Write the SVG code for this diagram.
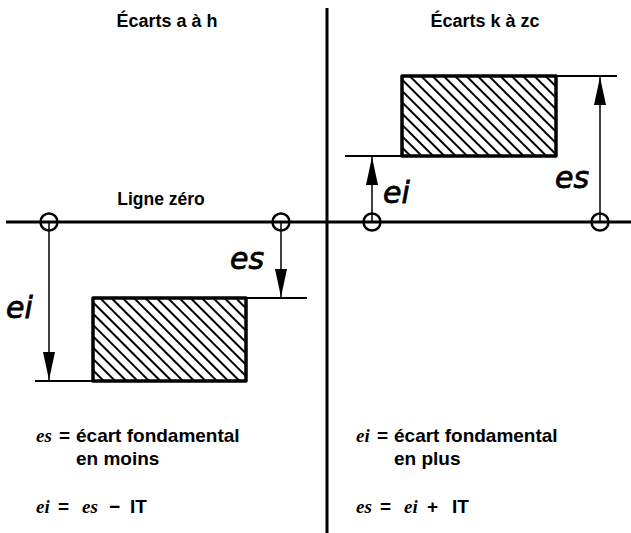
<svg xmlns="http://www.w3.org/2000/svg" width="631" height="533" viewBox="0 0 631 533">
<style>
.t{font-family:"Liberation Sans",Arial,sans-serif;font-weight:bold;fill:#000}
.lab{font-family:"DejaVu Sans",sans-serif;font-style:oblique;font-size:30px;fill:#000;stroke:#000;stroke-width:0.8}
.it{font-family:"Liberation Serif","Times New Roman",serif;font-style:italic;font-weight:bold;fill:#000}
.thick{stroke:#000;stroke-width:3;fill:none}
.ext{stroke:#000;stroke-width:2;fill:none}
.dim{stroke:#000;stroke-width:1.5;fill:none}
.circ{stroke:#000;stroke-width:2.5;fill:none}
.box{stroke:#000;stroke-width:3.5;fill:url(#hatch);stroke-linejoin:round}
</style>
<defs>
<pattern id="hatch" patternUnits="userSpaceOnUse" width="8" height="8" patternTransform="rotate(45)">
<line x1="0" y1="4" x2="8" y2="4" stroke="#000" stroke-width="2"/>
</pattern>
<marker id="ah" viewBox="0 0 28 12" refX="28" refY="6" markerWidth="28" markerHeight="12" markerUnits="userSpaceOnUse" orient="auto">
<path d="M0,0 L28,6 L0,12 Z" fill="#000"/>
</marker>
</defs>

<g id="titles">
<text class="t" x="167" y="27" font-size="18" text-anchor="middle">Écarts a à h</text>
<text class="t" x="485" y="27" font-size="18" text-anchor="middle">Écarts k à zc</text>
<text class="t" x="161" y="205" font-size="17.5" text-anchor="middle">Ligne zéro</text>
</g>

<g id="axes">
<line class="thick" x1="327" y1="8" x2="327" y2="533"/>
<line class="thick" x1="6" y1="222" x2="631" y2="222"/>
</g>

<g id="left-tolerance">
<rect class="box" x="93" y="298" width="153" height="83"/>
</g>
<g id="right-tolerance">
<rect class="box" x="402" y="76" width="154" height="80"/>
</g>

<g id="reference-points">
<circle class="circ" cx="49" cy="222" r="8.5"/>
<circle class="circ" cx="281" cy="222" r="8.5"/>
<circle class="circ" cx="372" cy="222" r="8.5"/>
<circle class="circ" cx="600" cy="222" r="8.5"/>
</g>

<g id="connectors">
<line class="ext" x1="246" y1="298" x2="307" y2="298"/>
<line class="ext" x1="35" y1="381" x2="93" y2="381"/>
<line class="ext" x1="345" y1="156" x2="402" y2="156"/>
<line class="ext" x1="556" y1="76" x2="617" y2="76"/>
<line class="dim" x1="49" y1="222" x2="49" y2="380" marker-end="url(#ah)"/>
<line class="dim" x1="281" y1="222" x2="281" y2="297" marker-end="url(#ah)"/>
<line class="dim" x1="372" y1="222" x2="372" y2="157" marker-end="url(#ah)"/>
<line class="dim" x1="600" y1="222" x2="600" y2="77" marker-end="url(#ah)"/>
</g>

<g id="labels">
<text class="lab" x="6" y="318">ei</text>
<text class="lab" x="230" y="269">es</text>
<text class="lab" x="383" y="203">ei</text>
<text class="lab" x="555" y="188">es</text>
</g>

<g id="left-notes">
<text x="36" y="442" font-size="19"><tspan class="it">es</tspan><tspan class="t" x="59">=</tspan><tspan class="t" x="76">écart fondamental</tspan></text>
<text class="t" x="76" y="465" font-size="19">en moins</text>
<text x="36" y="513" font-size="19"><tspan class="it">ei</tspan><tspan class="t" x="58">=</tspan><tspan class="it" x="82">es</tspan><tspan class="t" x="109">−</tspan><tspan class="t" x="130">IT</tspan></text>
</g>

<g id="right-notes">
<text x="356" y="442" font-size="19"><tspan class="it">ei</tspan><tspan class="t" x="377">=</tspan><tspan class="t" x="394">écart fondamental</tspan></text>
<text class="t" x="394" y="465" font-size="19">en plus</text>
<text x="356" y="513" font-size="19"><tspan class="it">es</tspan><tspan class="t" x="380">=</tspan><tspan class="it" x="404">ei</tspan><tspan class="t" x="427">+</tspan><tspan class="t" x="452">IT</tspan></text>
</g>
</svg>
